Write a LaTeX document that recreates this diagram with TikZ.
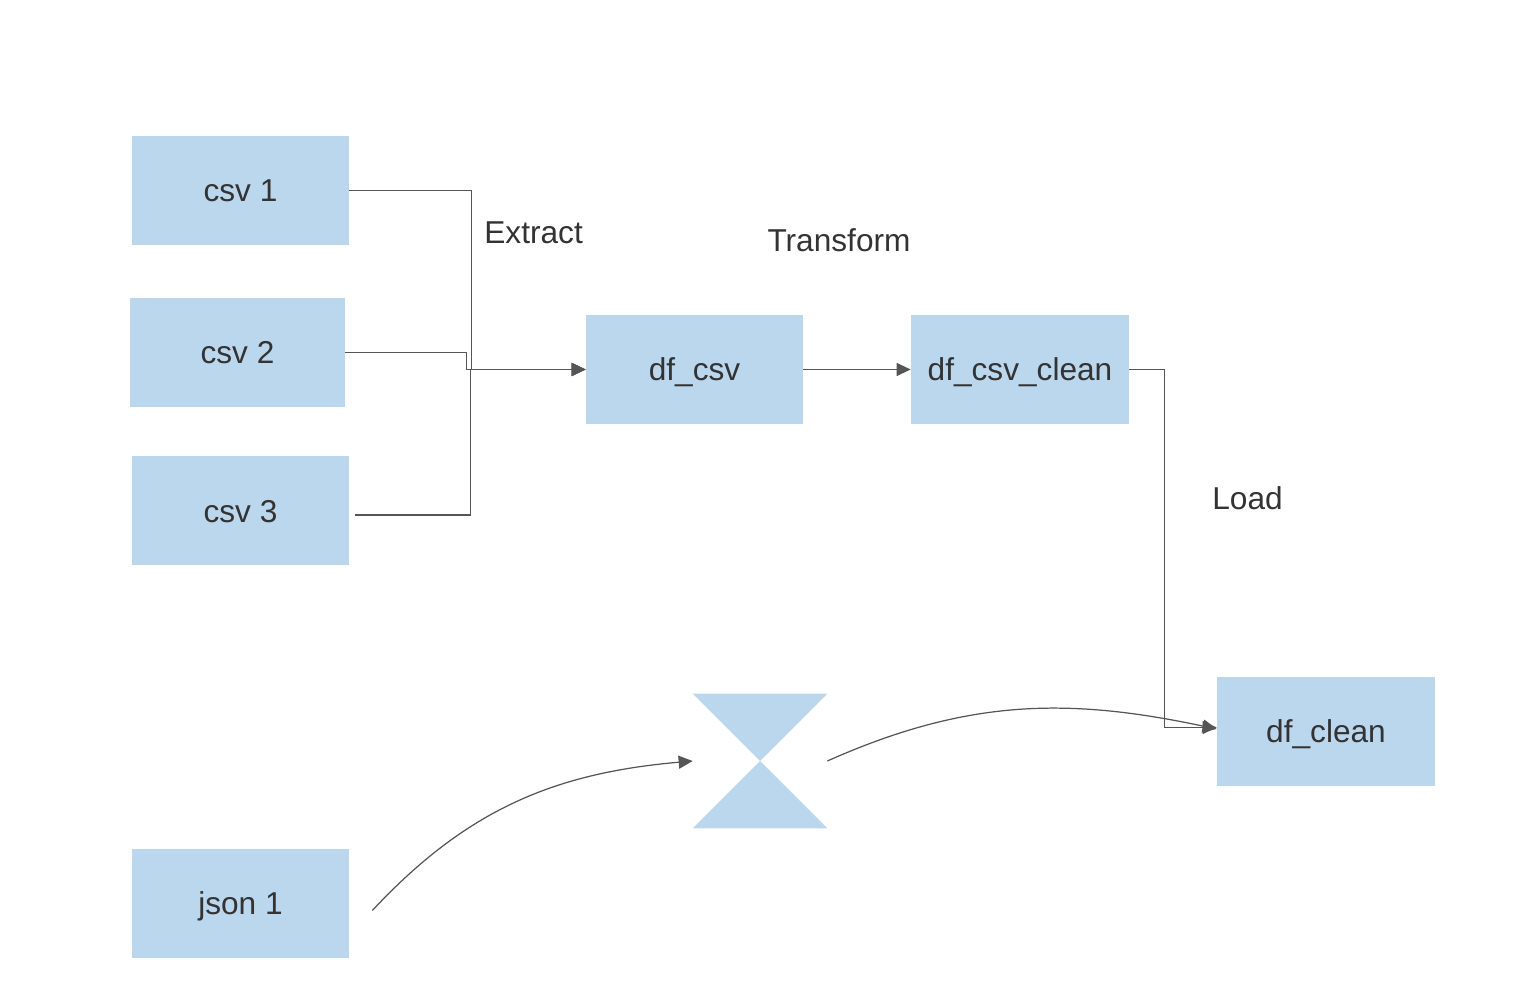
\documentclass[tikz,border=0pt]{standalone}
\usepackage{fontspec}
\setmainfont{Liberation Sans}
\usepackage{xcolor}
\usepackage{tikz}
\usetikzlibrary{arrows.meta}
\definecolor{boxblue}{HTML}{BBD7EE}
\definecolor{linegray}{HTML}{555555}
\definecolor{textgray}{HTML}{333333}
\tikzstyle{table} = [rectangle, minimum width=4.34cm, minimum height=2.18cm, inner sep=0pt, text height=13pt, text depth=0pt, text centered, fill=boxblue, text=textgray, font=\fontsize{18}{22}\selectfont]
\tikzstyle{stage} = [text=textgray, inner sep=0pt, font=\fontsize{18}{22}\selectfont]
\tikzstyle{link} = [draw=linegray, line width=0.7pt]
\tikzstyle{arrow} = [link, -{Triangle[length=0.28cm, width=0.26cm]}]

\begin{document}
\begin{tikzpicture}
	\useasboundingbox (0,0) rectangle (30.48,19.92);
	% sources
	\node (csv1) [table] at (4.81,16.11) {csv 1};
	\node (csv2) [table, minimum width=4.3cm] at (4.75,12.87) {csv 2};
	\node (csv3) [table] at (4.81,9.70) {csv 3};
	\node (json1) [table] at (4.81,1.85) {json 1};
	% frames
	\node (dfcsv) [table] at (13.89,12.53) {df\_csv};
	\node (dfcsvclean) [table, minimum width=4.36cm] at (20.40,12.53) {df\_csv\_clean};
	\node (dfclean) [table, minimum width=4.36cm] at (26.52,5.29) {df\_clean};
	% merge
	\node (merge) [minimum width=2.68cm, minimum height=2.68cm, inner sep=0pt] at (15.20,4.70) {};
	\fill [boxblue] (merge.north west) -- (merge.north east) -- (merge.south west) -- (merge.south east) -- cycle;
	% stage labels
	\node (extract) [stage, anchor=west] at (9.68,15.26) {Extract};
	\node (transform) [stage] at (16.78,15.12) {Transform};
	\node (load) [stage] at (24.95,9.96) {Load};
	% connectors
	\draw [arrow] (csv1.east) -- ++(2.44,0) |- (dfcsv.west);
	\draw [arrow] (csv2.east) -- ++(2.42,0) |- (dfcsv.west);
	\draw [arrow] ([xshift=0.12cm,yshift=-0.08cm]csv3.east) -- ++(2.3,0) |- (dfcsv.west);
	\draw [arrow] (dfcsv) -- (dfcsvclean);
	\draw [arrow] (dfcsvclean.east) -- ++(0.7,0) |- ([yshift=0.08cm]dfclean.west);
	\draw [arrow] ([xshift=0.46cm,yshift=-0.14cm]json1.east) to[out=47, in=185] (merge.west);
	\draw [arrow] (merge.east) to[out=24, in=168] ([yshift=0.05cm]dfclean.west);
\end{tikzpicture}
\end{document}
